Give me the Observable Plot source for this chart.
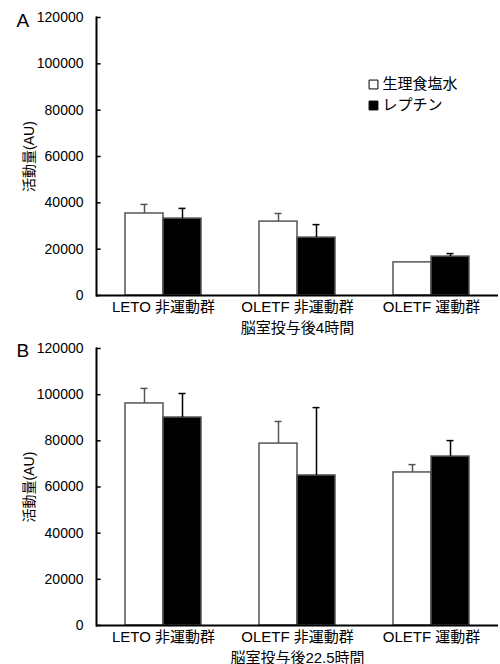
<!DOCTYPE html>
<html>
<head>
<meta charset="utf-8">
<script src="https://cdn.jsdelivr.net/npm/d3@7"></script>
<script src="https://cdn.jsdelivr.net/npm/@observablehq/plot@0.6"></script>
<style>
  body { margin: 0; background: white; }
  #chart svg { display: block; }
</style>
</head>
<body>
<div id="chart"></div>
<script>
// ---- data ----
const groups = ["LETO 非運動群", "OLETF 非運動群", "OLETF 運動群"];
const series = ["生理食塩水", "レプチン"];
const yTicks = [0, 20000, 40000, 60000, 80000, 100000, 120000];
const yLabel = "活動量(AU)";

// Panel A: 4 h after intraventricular injection
const subtitleA = "脳室投与後4時間";
const salineA = [35400, 31900, 14300];
const salineErrA = [3900, 3500, 0];
const leptinA = [33200, 25000, 16800];
const leptinErrA = [4400, 5600, 1300];

// Panel B: 22.5 h after intraventricular injection
const subtitleB = "脳室投与後22.5時間";
const salineB = [96200, 78800, 66300];
const salineErrB = [6500, 9600, 3400];
const leptinB = [90100, 65000, 73200];
const leptinErrB = [10400, 29400, 6900];

const FONT = "'Liberation Sans', Arial, 'Noto Sans CJK JP', sans-serif";

function rows(saline, salineErr, leptin, leptinErr) {
  const out = [];
  groups.forEach((g, i) => {
    out.push({group: g, series: series[0], value: saline[i], err: salineErr[i]});
    out.push({group: g, series: series[1], value: leptin[i], err: leptinErr[i]});
  });
  return out;
}

function panel({letter, data, subtitle, legend, height, marginTop, marginBottom, letterDy}) {
  const withErr = data.filter(d => d.err > 0);
  const errS = withErr.filter(d => d.series === series[0]);
  const errL = withErr.filter(d => d.series === series[1]);
  const facetW = (500 - 95 - 2) / groups.length;
  const marks = [
    Plot.barY(data, {fx: "group", x: "series", y: "value", fill: "series", stroke: "#555", strokeWidth: 1.5}),
    Plot.ruleX(errS, {fx: "group", x: "series", y1: "value", y2: d => d.value + d.err, stroke: "#555", strokeWidth: 1.5}),
    Plot.tickY(errS, {fx: "group", x: "series", y: d => d.value + d.err, stroke: "#555", strokeWidth: 1.5, insetLeft: 15.5, insetRight: 15.5}),
    Plot.ruleX(errL, {fx: "group", x: "series", y1: "value", y2: d => d.value + d.err, stroke: "black", strokeWidth: 1.5}),
    Plot.tickY(errL, {fx: "group", x: "series", y: d => d.value + d.err, stroke: "black", strokeWidth: 1.5, insetLeft: 15.5, insetRight: 15.5}),
    Plot.ruleY([0], {stroke: "black", strokeWidth: 2}),
    Plot.ruleY(yTicks, {facetAnchor: "left", stroke: "black", strokeWidth: 1.5, insetRight: facetW - 5}),
    Plot.frame({anchor: "left", facetAnchor: "left", stroke: "black", strokeWidth: 2}),
    Plot.axisY({ticks: yTicks, tickFormat: d => String(d), tickSize: 0, tickPadding: 13, fontSize: 14,
      label: yLabel, labelAnchor: "center", labelOffset: 72, labelArrow: "none"}),
    Plot.axisFx({anchor: "bottom", tickSize: 0, tickPadding: 6, fontSize: 15, label: subtitle, labelAnchor: "center", labelOffset: 37}),
    Plot.text([letter], {frameAnchor: "top-left", facetAnchor: "left", text: d => d, lineAnchor: "middle", dx: -80, dy: letterDy, fontSize: 19, fill: "black"})
  ];
  if (legend) {
    marks.push(
      Plot.dot([series[0]], {frameAnchor: "top-left", facetAnchor: "right", symbol: "square", r: 5, fill: "white", stroke: "black", strokeWidth: 1, dx: 9, dy: 67}),
      Plot.text([series[0]], {frameAnchor: "top-left", facetAnchor: "right", text: d => d, textAnchor: "start", lineAnchor: "middle", fontSize: 15, dx: 18, dy: 67}),
      Plot.dot([series[1]], {frameAnchor: "top-left", facetAnchor: "right", symbol: "square", r: 5, fill: "black", stroke: "black", strokeWidth: 1, dx: 9, dy: 88}),
      Plot.text([series[1]], {frameAnchor: "top-left", facetAnchor: "right", text: d => d, textAnchor: "start", lineAnchor: "middle", fontSize: 15, dx: 18, dy: 88})
    );
  }
  return Plot.plot({
    width: 500,
    height,
    marginLeft: 95,
    marginRight: 2,
    marginTop,
    marginBottom,
    style: {fontFamily: FONT, fontSize: "14px", color: "black", background: "white", overflow: "visible"},
    fx: {domain: groups, padding: 0, axis: null},
    x: {domain: series, paddingInner: 0, paddingOuter: 0.73, axis: null},
    y: {domain: [0, 120000], axis: null},
    color: {domain: series, range: ["white", "black"]},
    marks
  });
}

const chart = document.getElementById("chart");
chart.appendChild(panel({letter: "A", data: rows(salineA, salineErrA, leptinA, leptinErrA), subtitle: subtitleA,
  legend: true, height: 334, marginTop: 17, marginBottom: 39, letterDy: 3}));
chart.appendChild(panel({letter: "B", data: rows(salineB, salineErrB, leptinB, leptinErrB), subtitle: subtitleB,
  legend: false, height: 330, marginTop: 14, marginBottom: 39, letterDy: 2}));
</script>
</body>
</html>
